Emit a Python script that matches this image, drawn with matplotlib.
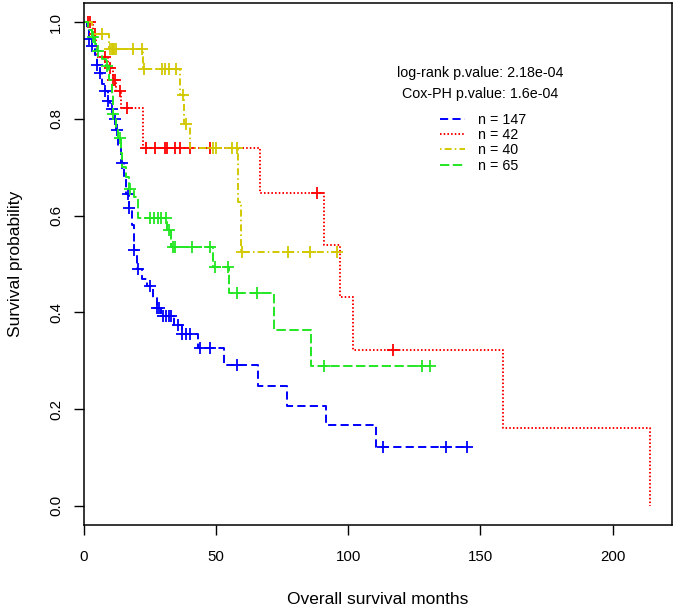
import matplotlib
matplotlib.use("Agg")
import matplotlib.pyplot as plt
import numpy as np

plt.rcParams['font.family'] = ['Liberation Sans', 'DejaVu Sans']

# step curves: event times and survival after each step, end of follow-up, censor times
blue_t = [0, 1, 2, 3, 4, 5, 6, 7, 8, 9, 10, 11, 12, 13, 14, 15, 16, 17, 18, 19, 20,
          22, 24, 26, 27.5, 29, 34, 37, 43, 53, 66, 77, 91.5, 110.5]
blue_s = [1.0, 0.986, 0.966, 0.952, 0.932, 0.912, 0.895, 0.872, 0.858, 0.838, 0.82,
          0.80, 0.778, 0.745, 0.71, 0.68, 0.645, 0.615, 0.58, 0.53, 0.49,
          0.47, 0.455, 0.43, 0.41, 0.393, 0.373, 0.356, 0.327, 0.292, 0.248, 0.207,
          0.166, 0.122]
blue_end = 145
blue_cens = [2, 3, 5, 6, 8, 9, 10.5, 11.7, 12.5, 14.5, 16.5, 17, 19, 20.5, 25, 27.5,
             28.5, 30, 31, 32, 33, 35.5, 37, 38.5, 40, 44, 47.5, 58, 113, 137, 145]

red_t = [0, 3.5, 4.5, 5, 9, 11, 12, 14, 22.3, 66.6, 90.8, 96.9, 101.8, 158.6, 214]
red_s = [1.0, 0.976, 0.952, 0.928, 0.905, 0.88, 0.857, 0.822, 0.739, 0.646, 0.54,
         0.431, 0.323, 0.16, 0.0]
red_end = 214
red_cens = [1.5, 2.3, 4, 8, 9.8, 11, 11.6, 13.6, 16.2, 23.5, 27, 30.6, 31.4, 34.4,
            36.3, 40.1, 47.7, 88, 117]

yellow_t = [0, 3, 9.5, 22.4, 36.3, 38, 40.1, 58.3, 59.5]
yellow_s = [1.0, 0.975, 0.944, 0.903, 0.849, 0.79, 0.739, 0.628, 0.524]
yellow_end = 95.7
yellow_cens = [6.8, 10, 10.5, 11, 11.5, 12, 18.6, 21.8, 22.7, 29.5, 30.5, 32, 35,
               37.5, 38.6, 48.8, 50, 56, 58, 59.7, 77.3, 85.5, 95.7]

green_t = [0, 1.5, 3, 4, 5, 7, 8.5, 9.5, 10.5, 11, 12, 13, 14, 14.5, 16, 17, 19, 20.5,
           31.5, 33, 48.8, 55, 72, 86]
green_s = [1.0, 0.985, 0.97, 0.955, 0.94, 0.925, 0.91, 0.88, 0.85, 0.81, 0.78, 0.76,
           0.73, 0.70, 0.68, 0.655, 0.638, 0.596, 0.57, 0.536, 0.493, 0.439, 0.364,
           0.29]
green_end = 131
green_cens = [3.5, 5.3, 8.6, 11, 13.6, 17.4, 25, 26.5, 28, 29, 31, 32, 33.5, 34.5,
              41, 47.7, 49.6, 54.5, 58, 65.5, 91, 128, 131]

labels = ["n = 147", "n = 42", "n = 40", "n = 65"]
colors = ["#0000FF", "#FF0000", "#D2C800", "#22E622"]
dashes = [(4.2, 2.2), (0.8, 1.1), (0.8, 1.6, 3.6, 1.6), (4.8, 1.8)]

fig = plt.figure(figsize=(6.75, 6.1), dpi=100)
ax = fig.add_axes([84 / 675, 1 - 525 / 610, 588 / 675, 522 / 610])

groups = [(blue_t, blue_s, blue_end, blue_cens),
          (red_t, red_s, red_end, red_cens),
          (yellow_t, yellow_s, yellow_end, yellow_cens),
          (green_t, green_s, green_end, green_cens)]

handles = []
for (t, s, end, cens), col, lab, ds in zip(groups, colors, labels, dashes):
    x = list(t) + [end]
    y = list(s) + [s[-1]]
    ln, = ax.step(x, y, where='post', color=col, lw=1.4, label=lab)
    ln.set_dashes(ds)
    handles.append(ln)
    # censor marks sit on the curve at their time
    idx = np.searchsorted(t, cens, side='right') - 1
    ax.plot(cens, np.array(s)[idx], ls='none', marker='+', ms=8, mew=1.3, color=col)

ax.set_xlim(0, 222.5)
ax.set_ylim(-0.04, 1.04)
ax.set_xticks([0, 50, 100, 150, 200])
ax.set_yticks([0.0, 0.2, 0.4, 0.6, 0.8, 1.0])
ax.set_yticklabels(["0.0", "0.2", "0.4", "0.6", "0.8", "1.0"], rotation=90, va='center')
ax.tick_params(length=7, width=1, labelsize=10.8, direction='out')
ax.tick_params(axis='x', pad=11)
ax.tick_params(axis='y', pad=8)
for sp in ax.spines.values():
    sp.set_linewidth(1.1)

ax.set_xlabel("Overall survival months", fontsize=12.5, labelpad=20)
ax.set_ylabel("Survival probability", fontsize=12.5, labelpad=19)

ax.text(0.673, 0.866, "log-rank p.value: 2.18e-04", transform=ax.transAxes,
        ha='center', va='center', fontsize=10.3)
ax.text(0.673, 0.826, "Cox-PH p.value: 1.6e-04", transform=ax.transAxes,
        ha='center', va='center', fontsize=10.3)
ax.legend(handles=handles, loc='upper left', bbox_to_anchor=(0.605, 0.79),
          frameon=False, fontsize=10.3, handlelength=1.8, handletextpad=0.9,
          labelspacing=0.1, borderpad=0, borderaxespad=0)

fig.savefig("out.png", dpi=100)
